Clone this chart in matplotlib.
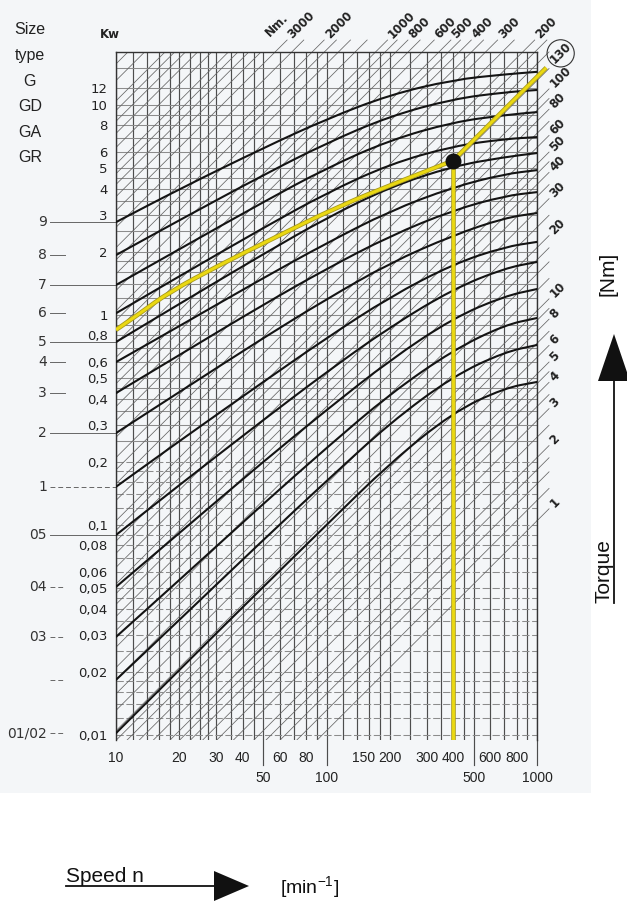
import numpy as np
import matplotlib
matplotlib.use('Agg')
import matplotlib.pyplot as plt
import matplotlib.patheffects as pe
from matplotlib.patches import Rectangle, Polygon, PathPatch
from matplotlib.path import Path

plt.rcParams['font.family'] = ['Liberation Sans', 'DejaVu Sans']
plt.rcParams['mathtext.default'] = 'regular'

speed_pts = [10, 20, 50, 100, 200, 400, 700, 1000]

# Power (kW) of each size curve at speed_pts
kw_size_9 = [2.77, 3.98, 6.24, 8.58, 11.2, 13.2, 14.0, 14.4]
kw_size_8 = [1.93, 2.83, 4.64, 6.59, 8.86, 10.7, 11.5, 11.8]
kw_size_7 = [1.39, 2.06, 3.45, 5.01, 6.81, 8.30, 8.96, 9.26]
kw_size_6 = [1.02, 1.53, 2.60, 3.81, 5.24, 6.38, 6.89, 7.04]
kw_size_5 = [0.744, 1.13, 1.95, 2.90, 4.07, 5.12, 5.65, 5.91]
kw_size_4 = [0.597, 0.886, 1.50, 2.20, 3.13, 4.07, 4.69, 4.90]
kw_size_3 = [0.425, 0.645, 1.12, 1.66, 2.38, 3.16, 3.69, 3.85]
kw_size_2 = [0.274, 0.430, 0.777, 1.19, 1.77, 2.40, 2.90, 3.06]
kw_size_1 = [0.152, 0.251, 0.480, 0.777, 1.22, 1.75, 2.11, 2.23]
kw_size_05 = [0.0896, 0.155, 0.316, 0.535, 0.877, 1.33, 1.67, 1.79]
kw_size_04 = [0.0507, 0.0916, 0.200, 0.353, 0.610, 0.968, 1.23, 1.33]
kw_size_03 = [0.0293, 0.0547, 0.126, 0.233, 0.421, 0.681, 0.896, 0.968]
kw_size_02 = [0.0183, 0.0353, 0.0848, 0.162, 0.306, 0.512, 0.666, 0.720]
kw_size_01 = [0.0102, 0.0204, 0.0507, 0.100, 0.197, 0.345, 0.449, 0.480]

size_labels = ['9', '8', '7', '6', '5', '4', '3', '2', '1', '05', '04', '03', '', '01/02']

# selected drive (yellow path)
sel_speed = [10, 13, 18, 31, 54, 112, 231, 400]
sel_kw = [0.85, 1.02, 1.29, 1.73, 2.28, 3.27, 4.39, 5.44]
op_speed = 400
op_torque = 130

# axis ticks / labels
kw_ticks = [0.01, 0.02, 0.03, 0.04, 0.05, 0.06, 0.08, 0.1, 0.2, 0.3, 0.4, 0.5,
            0.6, 0.8, 1, 2, 3, 4, 5, 6, 8, 10, 12]
kw_ticklabels = ['0,01', '0,02', '0,03', '0,04', '0,05', '0,06', '0,08', '0,1',
                 '0,2', '0,3', '0,4', '0,5', '0,6', '0,8', '1', '2', '3', '4',
                 '5', '6', '8', '10', '12']
speed_row1 = [10, 20, 30, 40, 60, 80, 150, 200, 300, 400, 600, 800]
speed_row2 = [50, 100, 500, 1000]
torque_top = [3000, 2000, 1000, 800, 600, 500, 400, 300, 200]
torque_right = [100, 80, 60, 50, 40, 30, 20, 10, 8, 6, 5, 4, 3, 2, 1]

# grid of the nomogram
speed_grid = [10, 12, 14, 16, 18, 20, 22.5, 25, 27.5, 30, 35, 40, 45, 50, 60, 70,
              80, 90, 100, 120, 140, 160, 180, 200, 250, 300, 350, 400, 450, 500,
              600, 700, 800, 900, 1000]
kw_grid = [0.01, 0.012, 0.014, 0.016, 0.018, 0.02, 0.025, 0.03, 0.035, 0.04, 0.045,
           0.05, 0.06, 0.07, 0.08, 0.09, 0.1, 0.12, 0.14, 0.16, 0.18, 0.2, 0.25,
           0.3, 0.35, 0.4, 0.45, 0.5, 0.6, 0.7, 0.8, 0.9, 1, 1.2, 1.4, 1.6, 1.8,
           2, 2.5, 3, 3.5, 4, 4.5, 5, 6, 7, 8, 9, 10, 12, 15]
torque_lines = [1, 1.25, 1.5, 1.75, 2, 2.5, 3, 3.5, 4, 4.5, 5, 6, 7, 8, 9,
                10, 12.5, 15, 17.5, 20, 25, 30, 35, 40, 45, 50, 60, 70, 80, 90,
                100, 125, 150, 175, 200, 250, 300, 350, 400, 450, 500, 600, 700,
                800, 900, 1000, 1250, 1500, 1750, 2000, 2500, 3000, 3500, 4000,
                4500, 5000, 6000, 7000, 8000, 9000, 10000, 12500, 15000, 17500]

K = 9550.0          # P[kW] = T[Nm] * n / 9550
n0, n1 = 10, 1000
p0, p1 = 0.00946, 17.9


def smooth_path(xs, ys):
    # quadratic bezier through log-space midpoints, read points act as controls
    lx, ly = np.log10(xs), np.log10(ys)
    mids = [(10 ** ((lx[i] + lx[i + 1]) / 2), 10 ** ((ly[i] + ly[i + 1]) / 2))
            for i in range(len(xs) - 1)]
    verts = [(xs[0], ys[0]), mids[0]]
    codes = [Path.MOVETO, Path.LINETO]
    for i in range(1, len(xs) - 1):
        verts += [(xs[i], ys[i]), mids[i]]
        codes += [Path.CURVE3, Path.CURVE3]
    verts.append((xs[-1], ys[-1]))
    codes.append(Path.LINETO)
    return Path(verts, codes)


fig = plt.figure(figsize=(6.27, 9.11), dpi=100)

# overlay in pixel coords for the loose annotation
ov = fig.add_axes([0, 0, 1, 1], zorder=-1)
ov.set_xlim(0, 627)
ov.set_ylim(911, 0)
ov.axis('off')
ov.add_patch(Rectangle((0, 0), 591, 793, fc='#f4f6f8', ec='none'))

ax = fig.add_axes([116 / 627, 1 - 740 / 911, 421 / 627, 688 / 911])
ax.set_facecolor('none')
ax.set_xscale('log')
ax.set_yscale('log')
ax.set_xlim(n0, n1)
ax.set_ylim(p0, p1)
ax.minorticks_off()

# grid
for n in speed_grid:
    ax.axvline(n, color='#4d4d4d', lw=0.85, zorder=1)
for p in kw_grid:
    ls = '-' if p >= 0.25 else (0, (7, 2.5))
    ax.axhline(p, color='#8c8c8c', lw=0.75, ls=ls, zorder=1)

# constant torque lines
f_ext = 10 ** (12 / 210)
f_lab = 10 ** (15 / 210)
for T in torque_lines:
    na = max(n0, p0 * K / T)
    nb = min(n1, p1 * K / T)
    if na >= nb:
        continue
    ax.plot([na, nb], [T * na / K, T * nb / K], color='#666', lw=0.55, zorder=2)
    if nb == n1 or nb >= 50:
        ax.plot([nb, nb * f_ext], [T * nb / K, T * nb * f_ext / K], color='#666',
                lw=0.55, clip_on=False, zorder=2)
    if T in torque_top or T in torque_right:
        ax.annotate(str(T), xy=(nb * f_lab, T * nb * f_lab / K), rotation=45,
                    rotation_mode='anchor', ha='left', va='center', fontsize=8.5,
                    fontweight='bold', family='DejaVu Sans', color='#222',
                    annotation_clip=False)

# size curves
size_curves = [kw_size_9, kw_size_8, kw_size_7, kw_size_6, kw_size_5, kw_size_4,
               kw_size_3, kw_size_2, kw_size_1, kw_size_05, kw_size_04, kw_size_03,
               kw_size_02, kw_size_01]
long_leader = [True, False, True, False, True, False, False, True, True, True,
               False, False, False, False]
dashed_leader = [False] * 8 + [True, False, True, True, True, True]
ytr = ax.get_yaxis_transform()
for kw, lab, lng, dsh in zip(size_curves, size_labels, long_leader, dashed_leader):
    ax.add_patch(PathPatch(smooth_path(speed_pts, kw), fill=False, ec='#141414',
                           lw=1.5, zorder=4, capstyle='round'))
    x_end = 0 if lng else -0.121
    ax.plot([-0.157, x_end], [kw[0], kw[0]], transform=ytr, color='#666', lw=0.7,
            ls=(0, (5, 3)) if dsh else '-', clip_on=False)
    ax.text(-0.164, kw[0], lab, transform=ytr, ha='right', va='center',
            fontsize=10, family='DejaVu Sans', color='#333')

# selected drive
op_kw = op_torque * op_speed / K
yel_fx = [pe.Stroke(linewidth=3.3, foreground='#a89a1e'), pe.Normal()]
ax.add_patch(PathPatch(smooth_path(sel_speed, sel_kw), fill=False, ec='#ead812',
                       lw=2.1, zorder=6, capstyle='butt', path_effects=yel_fx))
ax.plot([op_speed, op_speed], [p0, op_kw], color='#ead812', lw=2.1, zorder=6,
        solid_capstyle='butt', path_effects=yel_fx)
ax.plot([op_speed, n1 * f_ext * 0.97], [op_kw, op_torque * n1 * f_ext * 0.97 / K],
        color='#ead812', lw=2.1, zorder=6, solid_capstyle='butt', clip_on=False,
        path_effects=yel_fx)
ax.plot(op_speed, op_kw, 'o', ms=10.5, color='#111', zorder=8)
ax.annotate(str(op_torque), xy=(n1 * f_lab, op_torque * n1 * f_lab / K), rotation=45,
            rotation_mode='anchor', ha='left', va='center', fontsize=8.5,
            fontweight='bold', family='DejaVu Sans', color='#222',
            annotation_clip=False,
            bbox=dict(boxstyle='circle,pad=0.12', fc='none', ec='#333', lw=0.8))

# axes styling
ax.set_xticks([])
ax.set_yticks(kw_ticks)
ax.set_yticklabels(kw_ticklabels, family='DejaVu Sans', fontsize=9.5, color='#222')
ax.tick_params(axis='y', length=0, pad=6)
for s in ['left', 'top', 'right']:
    ax.spines[s].set_color('#333')
    ax.spines[s].set_linewidth(1.0)
ax.spines['bottom'].set_visible(False)

for n in speed_row1:
    ax.annotate(str(n), xy=(n, 0), xycoords=('data', 'axes fraction'),
                xytext=(0, -18 * 0.72), textcoords='offset points',
                ha='center', va='center', fontsize=10, color='#222')
for n in speed_row2:
    ax.annotate(str(n), xy=(n, 0), xycoords=('data', 'axes fraction'),
                xytext=(0, -38 * 0.72), textcoords='offset points',
                ha='center', va='center', fontsize=10, color='#222')
    ax.plot([n, n], [0, -25 / 688], transform=ax.get_xaxis_transform(),
            color='#4d4d4d', lw=0.85, clip_on=False)

# loose text and arrows
for i, t in enumerate(['Size', 'type', 'G', 'GD', 'GA', 'GR']):
    ov.text(30, 30 + 25.6 * i, t, ha='center', va='center', fontsize=11.5, color='#222')
ov.text(110, 34, 'Kw', ha='center', va='center', fontsize=8.5, fontweight='bold',
        family='DejaVu Sans', color='#222')
ov.text(277, 25, 'Nm.', rotation=45, ha='center', va='center', fontsize=8.5,
        fontweight='bold', family='DejaVu Sans', color='#222')

ov.text(609, 603, 'Torque', rotation=90, rotation_mode='anchor', ha='left',
        va='baseline', fontsize=15, color='#111')
ov.plot([614, 614], [603, 378], color='#111', lw=1.3)
ov.add_patch(Polygon([(598, 381), (630, 381), (614, 334)], fc='#111', ec='none'))
ov.text(608, 274, '[Nm]', rotation=90, ha='center', va='center', fontsize=15,
        color='#111')

ov.text(66, 882, 'Speed n', ha='left', va='baseline', fontsize=15, color='#111')
ov.plot([66, 220], [886, 886], color='#111', lw=1.3)
ov.add_patch(Polygon([(214, 871), (214, 901), (249, 886)], fc='#111', ec='none'))
ov.text(280, 887, '[min$^{-1}$]', ha='left', va='center', fontsize=14, color='#111')

fig.savefig('out.png', dpi=100)
